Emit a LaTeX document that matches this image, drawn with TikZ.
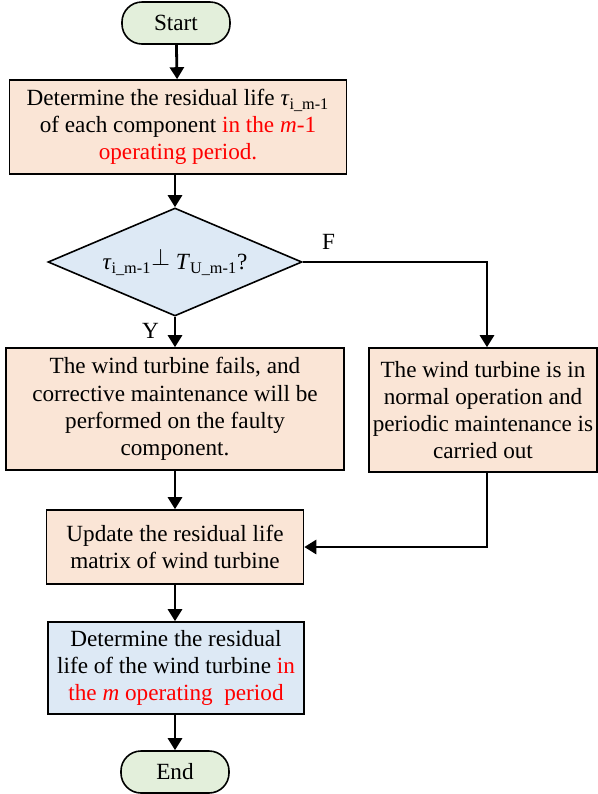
\documentclass[tikz,border=0pt]{standalone}
\usepackage{fontspec}
\setmainfont{Liberation Serif}
\usetikzlibrary{arrows.meta,positioning,calc,shapes.geometric}
\definecolor{stepfill}{RGB}{250,229,214}
\definecolor{askfill}{RGB}{221,233,245}
\definecolor{endfill}{RGB}{227,239,219}
\definecolor{notered}{RGB}{255,0,0}
\tikzset{box/.style={draw=black,fill=stepfill,thick,inner sep=2pt,align=center,font=\fontsize{11.6}{13.6}\selectfont},
  terminal/.style={draw=black,fill=endfill,thick,rounded corners=10pt,minimum width=54pt,minimum height=21pt,font=\fontsize{11.6}{13.6}\selectfont},
  ask/.style={draw=black,fill=askfill,thick,diamond,aspect=2.35,inner sep=0pt,minimum width=127pt,minimum height=54pt,font=\fontsize{11.6}{13.6}\selectfont},
  flow/.style={-{Triangle[length=6pt,width=7pt]},line width=1.4pt,black},
  labeltext/.style={font=\fontsize{11.6}{13.6}\selectfont}}

\begin{document}
\begin{tikzpicture}[x=0.5pt,y=-0.5pt]
\useasboundingbox (0,0) rectangle (598,794);
\node[terminal] (start) at (176,23) {Start};
\node[box,minimum width=168.5pt,minimum height=47pt] (resid) at (178,127)
  {Determine the residual life \textit{τ}\textsubscript{i\_m-1}\\ of each component \textcolor{notered}{in the \textit{m}-1}\\ \textcolor{notered}{operating period.}};
\node[ask] (check) at (175,262)
  {\textit{τ}\textsubscript{i\_m-1}\raisebox{2pt}{$\perp$} \textit{T}\textsubscript{U\_m-1}?};
\node[box,minimum width=169pt,minimum height=61pt] (fail) at (175,409)
  {The wind turbine fails, and\\ corrective maintenance will be\\ performed on the faulty\\ component.};
\node[box,minimum width=114pt,minimum height=62pt] (normal) at (483,410)
  {The wind turbine is in\\ normal operation and\\ periodic maintenance is\\ carried out};
\node[box,minimum width=128.5pt,minimum height=37pt] (update) at (175,547)
  {Update the residual life\\ matrix of wind turbine};
\node[box,fill=askfill,minimum width=128pt,minimum height=46pt] (life) at (176,668)
  {Determine the residual\\ life of the wind turbine \textcolor{notered}{in}\\ \textcolor{notered}{the \textit{m} operating\ \ period}};
\node[terminal] (end) at (175,772) {End};
% connectors
\draw[flow] (start) -- (resid);
\draw[flow] (resid.south -| check.north) -- (check);
\draw[flow] (check) -- node[labeltext,pos=0.45,left=4pt] {Y} (fail);
\draw[flow] (check.east) -| node[labeltext,pos=0.07,above=2pt] {F} (normal.north -| 487,0);
\draw[flow] (fail) -- (update);
\draw[flow] (normal.south -| 487,0) |- (update.east);
\draw[flow] (update) -- (update |- life.north);
\draw[flow] (life.south -| end) -- (end);
\end{tikzpicture}
\end{document}
